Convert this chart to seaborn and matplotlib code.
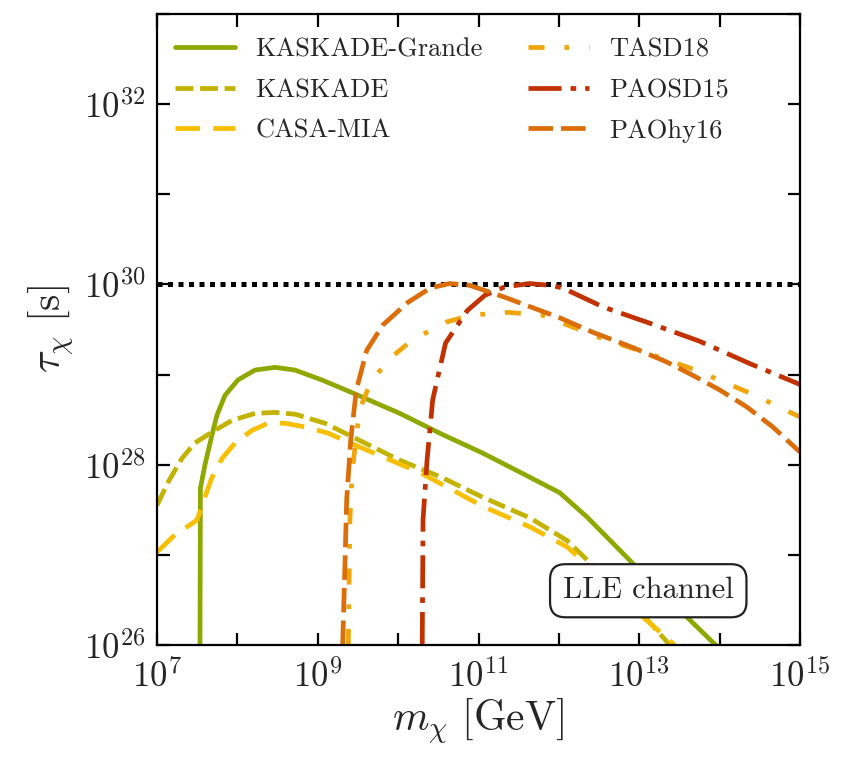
import numpy as np
import pandas as pd
import matplotlib
matplotlib.use("Agg")
import matplotlib.pyplot as plt
import seaborn as sns
from matplotlib.ticker import FixedLocator, FuncFormatter, NullLocator

# Lower limits on the lifetime of super-heavy dark matter (LLE decay channel).
# Values are log10(m_chi / GeV) and log10(tau_chi / s).
kg_logm   = [7.535, 7.54, 7.597, 7.684, 7.746, 7.846, 8.007, 8.219, 8.468, 8.716, 9.052,
             9.425, 10.02, 10.54, 11.05, 11.51, 12.01, 12.35, 12.97, 13.50, 13.95]
kg_logtau = [26.0, 27.74, 28.00, 28.33, 28.55, 28.77, 28.94, 29.05, 29.08, 29.05, 28.94,
             28.80, 28.57, 28.34, 28.13, 27.92, 27.69, 27.42, 26.86, 26.39, 26.0]

kas_logm   = [7.0, 7.14, 7.31, 7.47, 7.68, 7.93, 8.22, 8.47, 8.72, 9.09, 9.43, 10.02,
              10.54, 11.05, 11.64, 12.10, 12.61, 13.01, 13.38]
kas_logtau = [27.55, 27.81, 28.07, 28.24, 28.36, 28.49, 28.57, 28.58, 28.56, 28.46, 28.31, 28.05,
              27.86, 27.64, 27.41, 27.16, 26.72, 26.37, 26.0]

casa_logm   = [7.0, 7.22, 7.44, 7.50, 7.56, 7.68, 7.81, 7.97, 8.18, 8.38, 8.59, 8.84,
               9.13, 9.38, 10.28, 11.05, 11.64, 12.10, 12.61, 13.01, 13.44]
casa_logtau = [27.03, 27.22, 27.35, 27.39, 27.55, 27.85, 28.07, 28.24, 28.38, 28.46, 28.46, 28.42,
               28.35, 28.25, 27.91, 27.54, 27.31, 27.09, 26.69, 26.34, 26.0]

tasd_logm   = [9.38, 9.40, 9.43, 9.52, 9.66, 9.90, 10.17, 10.59, 10.91, 11.37, 11.79,
               12.51, 13.29, 13.67, 14.10, 14.44, 14.81, 15.0]
tasd_logtau = [26.0, 27.39, 27.94, 28.61, 28.92, 29.18, 29.38, 29.58, 29.66, 29.69, 29.66,
               29.41, 29.18, 29.06, 28.90, 28.77, 28.61, 28.53]

paosd_logm   = [10.30, 10.31, 10.36, 10.43, 10.59, 10.86, 11.08, 11.32, 11.63, 11.89, 12.05,
                12.55, 13.13, 13.75, 14.38, 15.0]
paosd_logtau = [26.0, 27.39, 28.05, 28.72, 29.35, 29.71, 29.88, 29.97, 30.01, 29.99, 29.96,
                29.75, 29.57, 29.37, 29.12, 28.89]

paohy_logm   = [9.31, 9.34, 9.36, 9.41, 9.48, 9.61, 9.81, 10.12, 10.40, 10.64, 10.89,
                11.32, 12.01, 12.42, 12.92, 13.34, 13.67, 14.00, 14.34, 14.66, 15.0]
paohy_logtau = [26.0, 26.94, 27.61, 28.27, 28.83, 29.27, 29.55, 29.80, 29.96, 30.01, 29.99,
                29.86, 29.63, 29.47, 29.30, 29.14, 28.99, 28.83, 28.64, 28.42, 28.14]

labels = ["KASKADE-Grande", "KASKADE", "CASA-MIA", "TASD18", "PAOSD15", "PAOhy16"]
curves = [(kg_logm, kg_logtau), (kas_logm, kas_logtau), (casa_logm, casa_logtau),
          (tasd_logm, tasd_logtau), (paosd_logm, paosd_logtau), (paohy_logm, paohy_logtau)]

colors = ["#8fa800", "#c4b200", "#f8be00", "#f0a50a", "#c13200", "#dc6e0a"]
styles = ["-", (0, (3.8, 1.4)), (0, (5.2, 2.8)), (0, (3.4, 4.2, 1.0, 4.2)),
          (0, (7.0, 1.9, 1.2, 1.9)), (0, (5.2, 1.7))]

tau_bound = 1e30           # dotted reference lifetime
x_range = (1e7, 1e15)
y_range = (1e26, 1e33)

sns.set_style("white")
plt.rcParams["font.family"] = ["cmr10", "DejaVu Serif"]
plt.rcParams["mathtext.fontset"] = "cm"
plt.rcParams["axes.formatter.use_mathtext"] = True
plt.rcParams["axes.unicode_minus"] = False

fig = plt.figure(figsize=(8.42, 7.61), dpi=100)
ax = fig.add_axes([157 / 842, 1 - 645 / 761, 643 / 842, 631 / 761])

for name, (lm, lt), c, ls in zip(labels, curves, colors, styles):
    df = pd.DataFrame({"m": 10 ** np.asarray(lm), "tau": 10 ** np.asarray(lt)})
    sns.lineplot(data=df, x="m", y="tau", ax=ax, estimator=None, sort=False,
                 color=c, lw=3.4, linestyle=ls, label=name)

ax.axhline(tau_bound, color="black", lw=3.6, linestyle=(0, (1.0, 1.1)), zorder=1)

ax.set_xscale("log")
ax.set_yscale("log")
ax.set_xlim(*x_range)
ax.set_ylim(*y_range)

xt = [10.0 ** k for k in range(7, 16)]
yt = [10.0 ** k for k in range(26, 34)]
ax.xaxis.set_major_locator(FixedLocator(xt))
ax.yaxis.set_major_locator(FixedLocator(yt))
ax.xaxis.set_minor_locator(NullLocator())
ax.yaxis.set_minor_locator(NullLocator())


def decade_label(parity):
    def fmt(v, pos):
        k = int(round(np.log10(v)))
        return r"$10^{%d}$" % k if k % 2 == parity else ""
    return fmt


ax.xaxis.set_major_formatter(FuncFormatter(decade_label(1)))
ax.yaxis.set_major_formatter(FuncFormatter(decade_label(0)))
ax.tick_params(which="major", direction="in", length=9, width=1.6,
               top=True, right=True, bottom=True, left=True,
               labelsize=25, color="black")
ax.tick_params(axis="x", pad=10)
ax.tick_params(axis="y", pad=8)
for sp in ax.spines.values():
    sp.set_linewidth(1.6)
    sp.set_color("black")

ax.set_xlabel(r"$m_\chi\ [\mathrm{GeV}]$", fontsize=30, labelpad=2)
ax.set_ylabel(r"$\tau_\chi\ [\mathrm{s}]$", fontsize=30, labelpad=6)

ax.legend(ncol=2, loc="upper left", bbox_to_anchor=(-0.0093, 1.0), frameon=False,
          fontsize=19, handlelength=2.3, handletextpad=0.75, columnspacing=1.73,
          labelspacing=0.64, borderaxespad=0.5)

ax.text(0.764, 0.086, "LLE channel", transform=ax.transAxes, fontsize=22,
        ha="center", va="center",
        bbox=dict(boxstyle="round,pad=0.42,rounding_size=0.5", fc="white",
                  ec="#222222", lw=1.6))

fig.savefig("out.png", dpi=100)
